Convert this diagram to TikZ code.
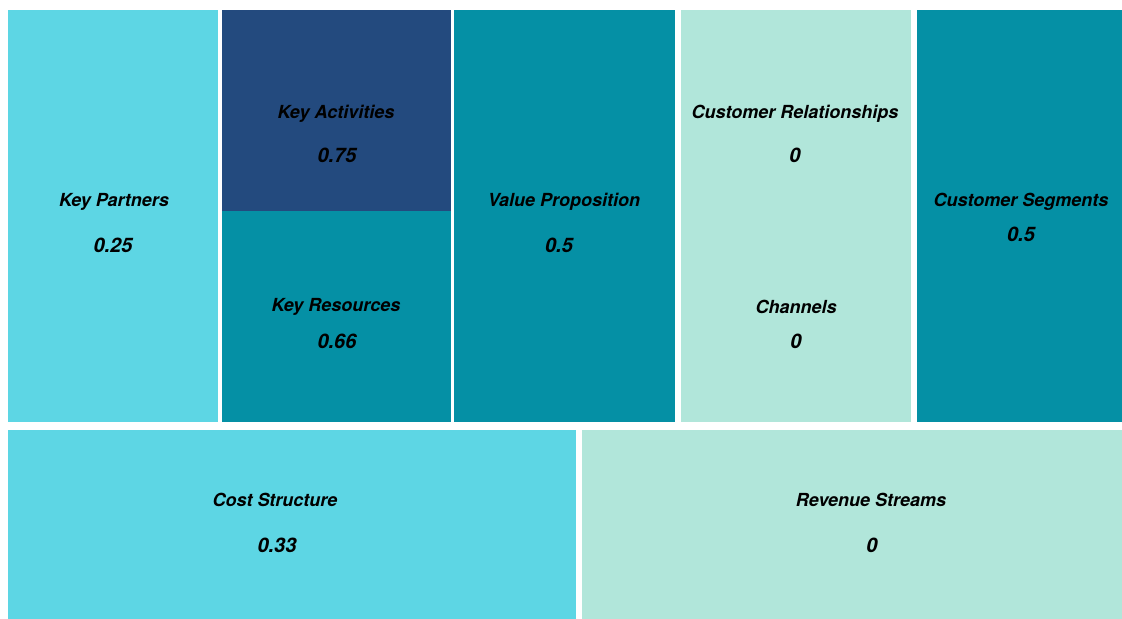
\documentclass[tikz,border=0pt]{standalone}
\usepackage{fontspec}
\setmainfont{TeX Gyre Heros}
\definecolor{cyanlt}{HTML}{5DD6E4}
\definecolor{navy}{HTML}{234A7E}
\definecolor{teal}{HTML}{0590A5}
\definecolor{mint}{HTML}{B1E6DA}
\begin{document}
\begin{tikzpicture}[x=0.5pt,y=-0.5pt,
  cell/.style={fill=#1},
  lbl/.style={font=\fontsize{9}{10}\selectfont\bfseries\itshape, text=black, inner sep=0pt},
  val/.style={font=\fontsize{10}{11}\selectfont\bfseries\itshape, text=black, inner sep=0pt}]
  \useasboundingbox[fill=white] (0,0) rectangle (1122,619);
  % canvas blocks
  \fill[cell=cyanlt] (8,10) rectangle (218,422);
  \fill[cell=navy]   (222,10) rectangle (451,211);
  \fill[cell=teal]   (222,211) rectangle (451,422);
  \fill[cell=teal]   (454,10) rectangle (675,422);
  \fill[cell=mint]   (681,10) rectangle (911,422);
  \fill[cell=teal]   (917,10) rectangle (1122,422);
  \fill[cell=cyanlt] (8,430) rectangle (576,619);
  \fill[cell=mint]   (582,430) rectangle (1122,619);
  % labels and scores
  \node[lbl] (kpL) at (114,202) {Key Partners};
  \node[val] (kpV) at (113,245) {0.25};
  \node[lbl] (kaL) at (336,114) {Key Activities};
  \node[val] (kaV) at (337,155) {0.75};
  \node[lbl] (krL) at (336,307) {Key Resources};
  \node[val] (krV) at (337,341) {0.66};
  \node[lbl] (vpL) at (564,202) {Value Proposition};
  \node[val] (vpV) at (559,245) {0.5};
  \node[lbl] (crL) at (795,114) {Customer Relationships};
  \node[val] (crV) at (795,155) {0};
  \node[lbl] (chL) at (796,307) {Channels};
  \node[val] (chV) at (796,341) {0};
  \node[lbl] (csL) at (1021,202) {Customer Segments};
  \node[val] (csV) at (1021,234) {0.5};
  \node[lbl] (cosL) at (275,500) {Cost Structure};
  \node[val] (cosV) at (277,545) {0.33};
  \node[lbl] (rsL) at (871,500) {Revenue Streams};
  \node[val] (rsV) at (872,545) {0};
\end{tikzpicture}
\end{document}
